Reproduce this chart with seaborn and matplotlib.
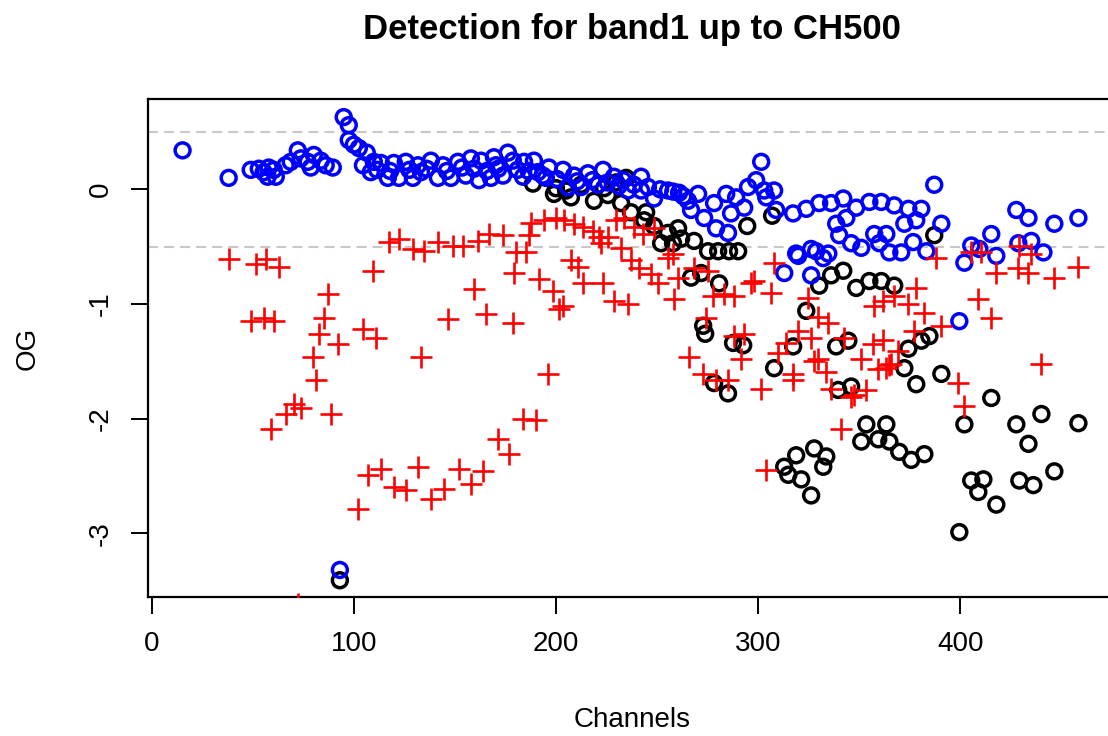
import numpy as np
import pandas as pd
import matplotlib
matplotlib.use("Agg")
import matplotlib.pyplot as plt
import seaborn as sns

# ---------------- data ----------------
blue_ch = [15.3, 38.1, 49.0, 53.0, 55.4, 57.9, 60.4, 57.4, 61.4, 66.3, 68.8, 72.3, 73.8, 77.2,
           80.2, 83.7, 86.1, 89.6, 78.7,
           95.0, 97.5, 97.5, 100.0, 102.5, 106.4, 104.5, 109.9, 108.4, 113.4, 116.8, 119.8,
           122.3, 125.7, 129.2, 131.7, 133.2, 138.1, 141.6, 144.1, 148.0, 151.5, 155.4, 157.9,
           161.9, 162.9, 165.8, 169.3, 167.8, 173.8, 176.2, 178.7, 170.3, 184.2, 183.7, 189.1,
           191.1, 196.5, 195.0, 203.5, 205.9, 208.9, 212.4, 215.8, 223.3, 220.8, 228.7, 233.2,
           235.6, 242.1, 242.1, 248.5, 255.4, 260.9, 265.3, 270.3, 266.8, 273.3, 278.2, 279.2,
           285.1, 284.2, 289.1, 286.6, 293.1, 295.0, 299.0, 301.5, 303.0, 307.9, 308.9, 304.0,
           317.3, 323.8, 330.2, 336.1, 342.1, 348.5, 355.0, 360.9, 367.3, 374.3, 380.7, 387.1,
           390.6, 372.3, 378.2, 343.6, 338.6, 340.1, 346.0, 351.0, 357.4, 363.4, 359.9, 364.9,
           370.8, 376.7, 383.2, 318.8, 326.2, 332.2, 334.7, 312.9, 326.2, 319.8, 328.7,
           402.0, 405.4, 409.4, 415.3, 417.8, 427.7, 433.7, 428.7, 435.1, 441.1, 446.5, 458.4,
           399.5, 93.1,
           111.5, 118.0, 127.5, 136.0, 146.0, 153.5, 159.5, 171.5, 181.0, 186.5, 193.5, 200.5,
           210.5, 218.0, 225.5, 231.0, 238.5, 245.5, 251.5, 258.0, 263.0]
blue_og = [0.34, 0.10, 0.17, 0.18, 0.15, 0.19, 0.17, 0.11, 0.11, 0.21, 0.24, 0.34, 0.27, 0.24,
           0.30, 0.25, 0.21, 0.19, 0.19,
           0.63, 0.56, 0.43, 0.39, 0.36, 0.32, 0.21, 0.24, 0.15, 0.23, 0.10, 0.23,
           0.10, 0.24, 0.10, 0.21, 0.15, 0.25, 0.10, 0.21, 0.10, 0.24, 0.12, 0.27,
           0.08, 0.25, 0.16, 0.28, 0.10, 0.12, 0.32, 0.25, 0.21, 0.24, 0.11, 0.25,
           0.15, 0.19, 0.10, 0.17, 0.02, 0.12, 0.02, 0.14, 0.17, 0.04, 0.11, 0.08,
           -0.01, 0.11, -0.01, -0.08, -0.01, -0.03, -0.10, -0.04, -0.18, -0.25, -0.12, -0.34,
           -0.38, -0.04, -0.07, -0.21, -0.16, 0.02, 0.08, 0.24, -0.01, -0.01, -0.18, -0.07,
           -0.21, -0.17, -0.12, -0.12, -0.08, -0.16, -0.11, -0.11, -0.14, -0.17, -0.17, 0.04,
           -0.30, -0.30, -0.27, -0.25, -0.30, -0.40, -0.47, -0.51, -0.39, -0.39, -0.47, -0.55,
           -0.55, -0.46, -0.54, -0.56, -0.52, -0.60, -0.56, -0.73, -0.75, -0.58, -0.54,
           -0.64, -0.49, -0.52, -0.39, -0.58, -0.18, -0.25, -0.47, -0.45, -0.55, -0.30, -0.25,
           -1.15, -3.32,
           0.17, 0.16, 0.17, 0.18, 0.16, 0.19, 0.18, 0.18, 0.17, 0.16, 0.12, 0.09,
           0.07, 0.08, 0.06, 0.03, 0.04, 0.02, 0.00, -0.02, -0.06]

black_ch = [93.1, 188.6, 199.0, 207.4, 218.8, 225.7, 232.2, 237.1, 244.6, 243.6, 248.5, 255.4,
            260.4, 261.9, 252.0, 257.9, 268.3, 275.2, 280.2, 285.6, 290.1, 266.8, 271.8, 280.7,
            294.6, 306.9, 272.8, 273.8, 278.2, 285.1, 287.6, 292.6, 307.9, 312.9, 314.9, 321.3,
            318.8, 327.7, 333.7, 332.2, 326.2, 351.0, 353.5, 359.4, 363.4, 364.9, 369.8, 375.7,
            382.2, 317.3, 338.6, 344.6, 339.6, 346.0, 372.3, 374.3, 380.7, 384.7, 378.2, 390.6,
            399.5, 458.4, 440.1, 415.3, 402.0, 427.7, 433.7, 405.4, 411.4, 408.9, 417.8, 429.2,
            436.1, 446.5, 323.8, 330.2, 336.1, 342.1, 348.5, 355.0, 360.9, 367.3, 387.1, 200.0,
            212.4, 223.8, 229.7, 234.7, 205.0]
black_og = [-3.41, 0.05, -0.04, -0.07, -0.10, -0.05, -0.12, -0.20, -0.20, -0.27, -0.32, -0.38,
            -0.34, -0.43, -0.47, -0.47, -0.45, -0.54, -0.54, -0.54, -0.54, -0.77, -0.73, -0.82,
            -0.32, -0.23, -1.19, -1.26, -1.69, -1.78, -1.34, -1.36, -1.56, -2.42, -2.49, -2.53,
            -2.32, -2.26, -2.33, -2.42, -2.67, -2.20, -2.05, -2.18, -2.05, -2.20, -2.29, -2.36,
            -2.31, -1.37, -1.37, -1.32, -1.75, -1.72, -1.56, -1.39, -1.32, -1.28, -1.70, -1.61,
            -2.99, -2.04, -1.96, -1.82, -2.05, -2.05, -2.22, -2.54, -2.53, -2.64, -2.75, -2.54,
            -2.58, -2.46, -1.06, -0.84, -0.75, -0.71, -0.86, -0.80, -0.80, -0.84, -0.40, 0.01,
            0.04, 0.01, 0.06, 0.10, -0.01]

red_ch = [38.1, 51.5, 56.4, 62.9, 49.0, 55.4, 60.4, 87.1, 85.1, 82.7, 92.1, 79.7, 81.2, 70.3,
          73.8, 66.3, 58.9, 88.6, 72.3, 104.5, 110.9, 109.4, 117.3, 122.3, 129.2, 134.7, 141.6,
          149.0, 154.0, 161.4, 166.8, 173.8, 180.2, 186.6, 185.1, 191.6, 179.2, 198.5, 194.1,
          200.0, 201.5, 203.5, 133.2, 146.5, 159.4, 165.3, 178.7, 196.0, 183.7, 190.1, 171.3,
          176.7, 152.0, 163.9, 157.9, 144.6, 106.9, 113.4, 119.8, 125.7, 131.7, 138.1, 102.0,
          187.6, 204.0, 213.4, 218.3, 221.3, 225.7, 229.7, 233.7, 238.6, 243.1, 248.5, 232.2,
          222.3, 207.4, 210.9, 237.1, 241.1, 247.0, 250.5, 255.4, 257.9, 260.4, 268.3, 275.2,
          277.7, 283.2, 213.4, 223.3, 228.7, 235.6, 258.4, 274.3, 265.8, 272.8, 279.2, 285.1,
          291.6, 301.5, 304.0, 288.1, 309.9, 307.9, 288.1, 296.5, 298.0, 306.4, 324.8, 329.7,
          334.7, 293.1, 313.9, 319.8, 317.3, 326.2, 329.7, 333.7, 342.6, 351.0, 353.5, 347.5,
          356.9, 361.9, 365.8, 363.4, 369.3, 377.2, 357.4, 361.9, 367.3, 374.3, 378.2, 341.1,
          382.2, 388.1, 390.6, 408.9, 415.3, 405.4, 410.4, 417.8, 428.7, 433.7, 429.2, 435.1,
          446.5, 458.4, 440.1, 399.0, 402.0, 317.3, 359.4, 364.9, 346.0, 336.1, 327.7, 209.0]
red_og = [-0.61, -0.65, -0.61, -0.68, -1.15, -1.12, -1.15, -0.91, -1.12, -1.26, -1.35, -1.46,
          -1.66, -1.87, -1.91, -1.96, -2.09, -1.96, -3.62, -1.22, -1.30, -0.71, -0.46, -0.43,
          -0.52, -0.54, -0.46, -0.49, -0.49, -0.45, -0.39, -0.40, -0.55, -0.40, -0.55, -0.78,
          -0.73, -0.89, -0.27, -0.25, -1.04, -1.02, -1.46, -1.13, -0.87, -1.09, -1.17, -1.61,
          -2.00, -2.01, -2.18, -2.31, -2.44, -2.46, -2.57, -2.61, -2.49, -2.44, -2.60, -2.62,
          -2.42, -2.70, -2.79,
          -0.29, -0.27, -0.33, -0.36, -0.42, -0.42, -0.27, -0.25, -0.33, -0.39, -0.34, -0.51,
          -0.47, -0.62, -0.68, -0.62, -0.69, -0.74, -0.82, -0.60, -0.56, -0.77, -0.69, -0.71,
          -0.93, -0.91, -0.82, -0.82, -0.97, -1.00, -0.96, -1.12, -1.46, -1.61, -1.66, -1.66,
          -1.48, -1.74, -2.45, -1.28, -1.43, -0.64, -0.93, -0.82, -0.80, -0.90, -0.95, -1.11,
          -1.17, -1.26, -1.34, -1.24, -1.61, -1.30, -1.48, -1.59, -1.30, -1.48, -1.75, -1.79,
          -1.35, -1.31, -1.52, -1.56, -1.41, -1.24, -1.02, -0.97, -0.93, -1.00, -0.86, -2.09,
          -1.08, -0.60, -1.19, -0.96, -1.12, -0.55, -0.55, -0.73, -0.69, -0.73, -0.49, -0.56,
          -0.77, -0.68, -1.52, -1.69, -1.89, -1.66, -1.57, -1.53, -1.81, -1.74, -1.50, -0.30]

x_ticks = [0, 100, 200, 300, 400]
y_ticks = [-3, -2, -1, 0]
ref_lines = [0.5, -0.5]
title = "Detection for band1 up to CH500"
xlab = "Channels"
ylab = "OG"

# ---------------- figure ----------------
sns.set_theme(style="white")
plt.rcParams['font.family'] = ['Liberation Sans', 'DejaVu Sans']

W, H = 1108, 736
fig = plt.figure(figsize=(W / 100, H / 100), dpi=100)
ax_l, ax_r, ax_t, ax_b = 148, 1116, 99, 597
ax = fig.add_axes([ax_l / W, 1 - ax_b / H, (ax_r - ax_l) / W, (ax_b - ax_t) / H])

for yv in ref_lines:
    ax.axhline(yv, color="#c8c8c8", lw=1.5, dashes=(4.8, 2.9), zorder=1)

black_df = pd.DataFrame({"Channels": black_ch, "OG": black_og})
blue_df = pd.DataFrame({"Channels": blue_ch, "OG": blue_og})
red_df = pd.DataFrame({"Channels": red_ch, "OG": red_og})

sns.scatterplot(data=black_df, x="Channels", y="OG", ax=ax, marker="o", s=115,
                color="black", facecolor="none", edgecolor="black", linewidth=2.5, zorder=2)
sns.scatterplot(data=blue_df, x="Channels", y="OG", ax=ax, marker="o", s=115,
                color="blue", facecolor="none", edgecolor="blue", linewidth=2.5, zorder=3)
sns.scatterplot(data=red_df, x="Channels", y="OG", ax=ax, marker="+", s=240,
                color="red", edgecolor="red", linewidth=1.9, zorder=4)

ax.set_xlim(-1.8, 477)
ax.set_ylim(-3.556, 0.788)
ax.set_xticks(x_ticks)
ax.set_yticks(y_ticks)
ax.set_xticklabels([str(v) for v in x_ticks])
ax.set_yticklabels([str(v) for v in y_ticks], rotation=90, va="center")

for sp in ["left", "bottom", "top"]:
    ax.spines[sp].set_visible(True)
    ax.spines[sp].set_color("black")
    ax.spines[sp].set_linewidth(1.6)
ax.spines["right"].set_visible(False)

ax.tick_params(axis="both", which="major", direction="out", length=12.5, width=1.4,
               color="black", labelsize=20, labelcolor="black", pad=12,
               bottom=True, left=True)

ax.set_xlabel(xlab, fontsize=20, color="black", va="center")
ax.set_ylabel(ylab, fontsize=20, color="black", va="center")
ax.xaxis.set_label_coords(0.5, -(720 - ax_b) / (ax_b - ax_t))
ax.yaxis.set_label_coords(-(ax_l - 28) / (ax_r - ax_l), 0.5)

fig.text(632 / W, 1 - 30 / H, title, ha="center", va="center",
         fontsize=25, fontweight="bold", color="black")

fig.savefig("out.png", dpi=100)
